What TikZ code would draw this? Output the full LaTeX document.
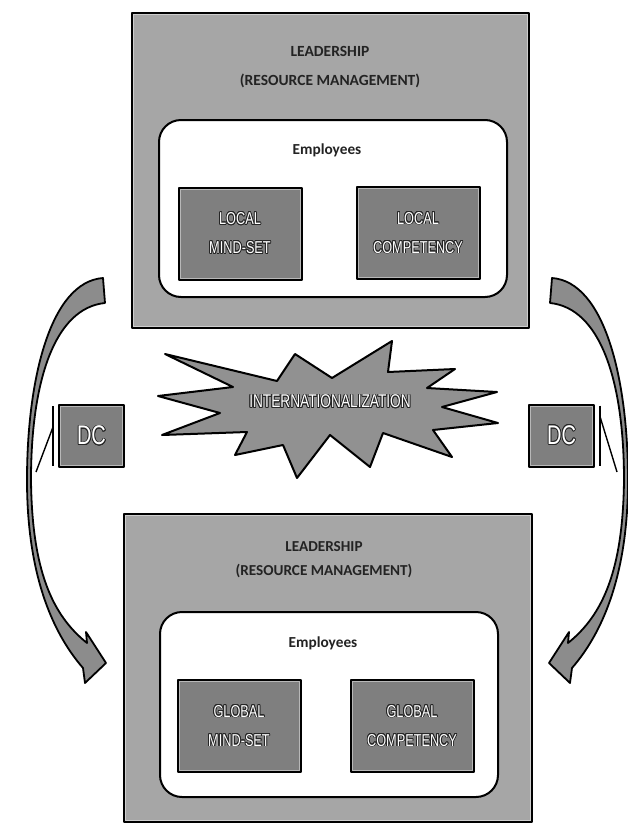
\documentclass[tikz,border=0pt]{standalone}
\usepackage{fontspec}
\setmainfont{Liberation Sans}
\newfontfamily\calfont{Carlito}
\newfontfamily\narrowfont[FakeStretch=0.74]{Liberation Sans}
\usepackage{xcolor}
\usepackage[copies]{contour}
\usepackage{tikz}
\contourlength{0.8pt}

\definecolor{boxgray}{RGB}{166,166,166}
\definecolor{panelgray}{RGB}{127,127,127}
\definecolor{burstgray}{RGB}{145,145,145}
\definecolor{arrowgray}{RGB}{140,140,140}
\definecolor{inkgray}{RGB}{35,35,35}

% 白字黑边
\newcommand{\wtext}[1]{{\color{white}\contour{black!85}{#1}}}
% 弯曲的块箭头
\newcommand{\bendarrow}{%
  \draw[arrowbody] (103,278) .. controls (50,282) and (27,380) .. (27,480)
    .. controls (27,570) and (50,630) .. (83,668) -- (85,683) -- (106,663)
    -- (86,632) -- (87,643) .. controls (52,615) and (32,570) .. (31,480)
    .. controls (31,380) and (55,308) .. (105,303) -- cycle;}

\begin{document}
\begin{tikzpicture}[x=1pt, y=-1pt, thick, line join=round,
    bigbox/.style={draw, line width=2pt, fill=boxgray, inner sep=0pt},
    staffbox/.style={draw, line width=2pt, fill=white, rounded corners=22pt, inner sep=0pt},
    mindbox/.style={draw, line width=2pt, fill=panelgray, inner sep=0pt,
      minimum width=123pt, minimum height=92pt, align=center,
      font=\narrowfont\fontsize{17.2}{29}\selectfont},
    dcbox/.style={draw, line width=2pt, fill=panelgray, inner sep=0pt,
      minimum width=65pt, minimum height=62pt,
      font=\narrowfont\fontsize{27}{27}\selectfont},
    headtext/.style={align=center, text=inkgray, font=\calfont\bfseries\fontsize{15.5}{29}\selectfont},
    stafftext/.style={text=inkgray, font=\calfont\bfseries\fontsize{15.3}{15.3}\selectfont},
    bevel/.style={draw=white, draw opacity=0.45, line width=1pt},
    burstshape/.style={draw, line width=2pt, fill=burstgray},
    arrowbody/.style={draw, line width=1.8pt, fill=arrowgray},
    dcline/.style={draw, line width=1.4pt}]

        \useasboundingbox (0,0) rectangle (628,825);

        % 两侧的箭头
        \begin{scope}
            \bendarrow
        \end{scope}
        \begin{scope}[xshift=655pt, xscale=-1]
            \bendarrow
        \end{scope}

        % 上方: 本地
        \node (topbox) [bigbox, minimum width=397pt, minimum height=315pt] at (330.5,170.5) {};
        \node (topstaff) [staffbox, minimum width=348pt, minimum height=177pt] at (333,208.5) {};
        \node (toptitle) [headtext] at (330,67) {LEADERSHIP\\(RESOURCE MANAGEMENT)};
        \node (topemp) [stafftext] at (327,150) {Employees};
        \node (localmind) [mindbox] at (240,233.5) {\wtext{LOCAL}\\\wtext{MIND-SET}};
        \node (localcomp) [mindbox] at (418,233) {\wtext{LOCAL}\\\wtext{COMPETENCY}};

        % 中间
        \draw[burstshape] (165,354) -- (277,381) -- (295,354) -- (332,378) -- (392,341)
            -- (388,372) -- (455,369) -- (427,388) -- (497,392) -- (442,407)
            -- (498,423) -- (433,430) -- (452,457) -- (383,433) -- (370,467)
            -- (330,435) -- (297,478) -- (283,445) -- (235,455) -- (247,432)
            -- (162,435) -- (220,413) -- (158,396) -- (233,387) -- cycle;
        \node (intl) [font=\narrowfont\fontsize{18.5}{18.5}\selectfont] at (330,402) {\wtext{INTERNATIONALIZATION}};

        \node (dcleft) [dcbox] at (91.5,436) {\wtext{DC}};
        \node (dcright) [dcbox] at (561.5,435.5) {\wtext{DC}};
        \coordinate (leftfoot) at (36,472);
        \coordinate (rightfoot) at (617,472);
        \draw[dcline] ([xshift=-5pt,yshift=-2pt]dcleft.north west) -- ([xshift=-5pt,yshift=2pt]dcleft.south west);
        \draw[dcline] ([xshift=-5pt,yshift=-23pt]dcleft.north west) -- (leftfoot);
        \draw[dcline] ([xshift=5pt,yshift=-2pt]dcright.north east) -- ([xshift=5pt,yshift=2pt]dcright.south east);
        \draw[dcline] ([xshift=5pt,yshift=-13pt]dcright.north east) -- (rightfoot);

        % 下方: 全球
        \node (botbox) [bigbox, minimum width=408pt, minimum height=308pt] at (328,668) {};
        \node (botstaff) [staffbox, minimum width=338pt, minimum height=185pt] at (329,704.5) {};
        \node (bottitle) [headtext, font=\calfont\bfseries\fontsize{15.2}{24}\selectfont] at (324,560) {LEADERSHIP\\(RESOURCE MANAGEMENT)};
        \node (botemp) [stafftext] at (323,643) {Employees};
        \node (globalmind) [mindbox] at (239,726) {\wtext{GLOBAL}\\\wtext{MIND-SET}};
        \node (globalcomp) [mindbox] at (412,726) {\wtext{GLOBAL}\\\wtext{COMPETENCY}};

        % 框内的浅色细线
        \foreach \b in {topbox, botbox, localmind, localcomp, globalmind, globalcomp, dcleft, dcright}
            \draw[bevel] ([shift={(2.5pt,-2.5pt)}]\b.north west) rectangle ([shift={(-2.5pt,2.5pt)}]\b.south east);

    \end{tikzpicture}
\end{document}
